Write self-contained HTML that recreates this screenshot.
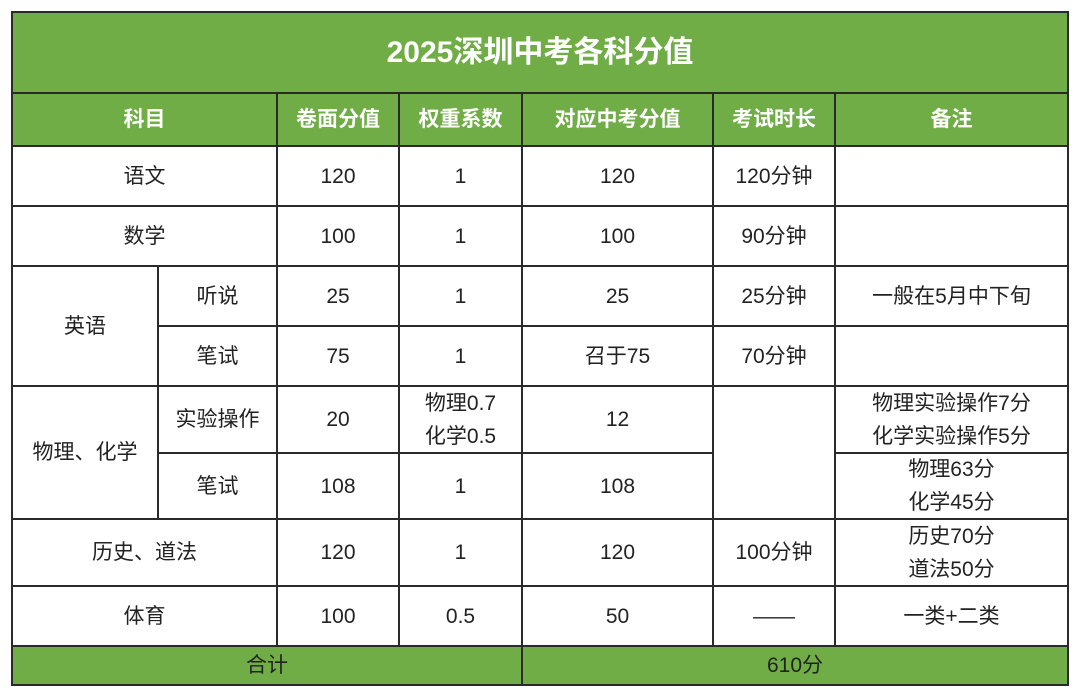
<!DOCTYPE html>
<html><head><meta charset="utf-8"><style>
body{margin:0;width:1080px;height:696px;background:#fff;position:relative;overflow:hidden;font-family:"Liberation Sans","Noto Sans CJK SC",sans-serif;}
.c{position:absolute;box-sizing:border-box;border:2px solid #2a2a2a;display:flex;align-items:center;justify-content:center;text-align:center;font-size:21px;color:#222;line-height:33px;}
.g{background:#70ad47;color:#fff;font-weight:bold;}
.f{background:#70ad47;color:#222;}
</style></head><body>
<div id="t"></div>
<script>
var cells=[
[12,1068,12,93,'2025深圳中考各科分值','g','title'],
[12,277,93,146,'科目','g','header'],[277,399,93,146,'卷面分值','g','header'],[399,522,93,146,'权重系数','g','header'],[522,713,93,146,'对应中考分值','g','header'],[713,835,93,146,'考试时长','g','header'],[835,1068,93,146,'备注','g','header'],
[12,277,146,206,'语文','','cell'],[277,399,146,206,'120','','cell'],[399,522,146,206,'1','','cell'],[522,713,146,206,'120','','cell'],[713,835,146,206,'120分钟','','cell'],[835,1068,146,206,'','','cell'],
[12,277,206,266,'数学','','cell'],[277,399,206,266,'100','','cell'],[399,522,206,266,'1','','cell'],[522,713,206,266,'100','','cell'],[713,835,206,266,'90分钟','','cell'],[835,1068,206,266,'','','cell'],
[12,158,266,386,'英语','','cell'],
[158,277,266,326,'听说','','cell'],[277,399,266,326,'25','','cell'],[399,522,266,326,'1','','cell'],[522,713,266,326,'25','','cell'],[713,835,266,326,'25分钟','','cell'],[835,1068,266,326,'一般在5月中下旬','','cell'],
[158,277,326,386,'笔试','','cell'],[277,399,326,386,'75','','cell'],[399,522,326,386,'1','','cell'],[522,713,326,386,'召于75','','cell'],[713,835,326,386,'70分钟','','cell'],[835,1068,326,386,'','','cell'],
[12,158,386,519,'物理、化学','','cell'],
[158,277,386,453,'实验操作','','cell'],[277,399,386,453,'20','','cell'],[399,522,386,453,'物理0.7<br>化学0.5','','cell'],[522,713,386,453,'12','','cell'],[713,835,386,519,'','','cell'],[835,1068,386,453,'物理实验操作7分<br>化学实验操作5分','','cell'],
[158,277,453,519,'笔试','','cell'],[277,399,453,519,'108','','cell'],[399,522,453,519,'1','','cell'],[522,713,453,519,'108','','cell'],[835,1068,453,519,'物理63分<br>化学45分','','cell'],
[12,277,519,586,'历史、道法','','cell'],[277,399,519,586,'120','','cell'],[399,522,519,586,'1','','cell'],[522,713,519,586,'120','','cell'],[713,835,519,586,'100分钟','','cell'],[835,1068,519,586,'历史70分<br>道法50分','','cell'],
[12,277,586,646,'体育','','cell'],[277,399,586,646,'100','','cell'],[399,522,586,646,'0.5','','cell'],[522,713,586,646,'50','','cell'],[713,835,586,646,'——','','cell'],[835,1068,586,646,'一类+二类','','cell'],
[12,522,646,685,'合计','f','total-label'],[522,1068,646,685,'610分','f','total-value']
];
var t=document.getElementById('t');
cells.forEach(function(c){
 var d=document.createElement('div');
 d.className='c '+c[5];
 d.style.left=(c[0]-1)+'px';d.style.top=(c[2]-1)+'px';
 d.style.width=(c[1]-c[0]+2)+'px';d.style.height=(c[3]-c[2]+2)+'px';
 if(c[6]==='title'){d.style.fontSize='30px';}
 d.innerHTML=c[4];
 
 
 t.appendChild(d);
});
</script>
</body></html>
